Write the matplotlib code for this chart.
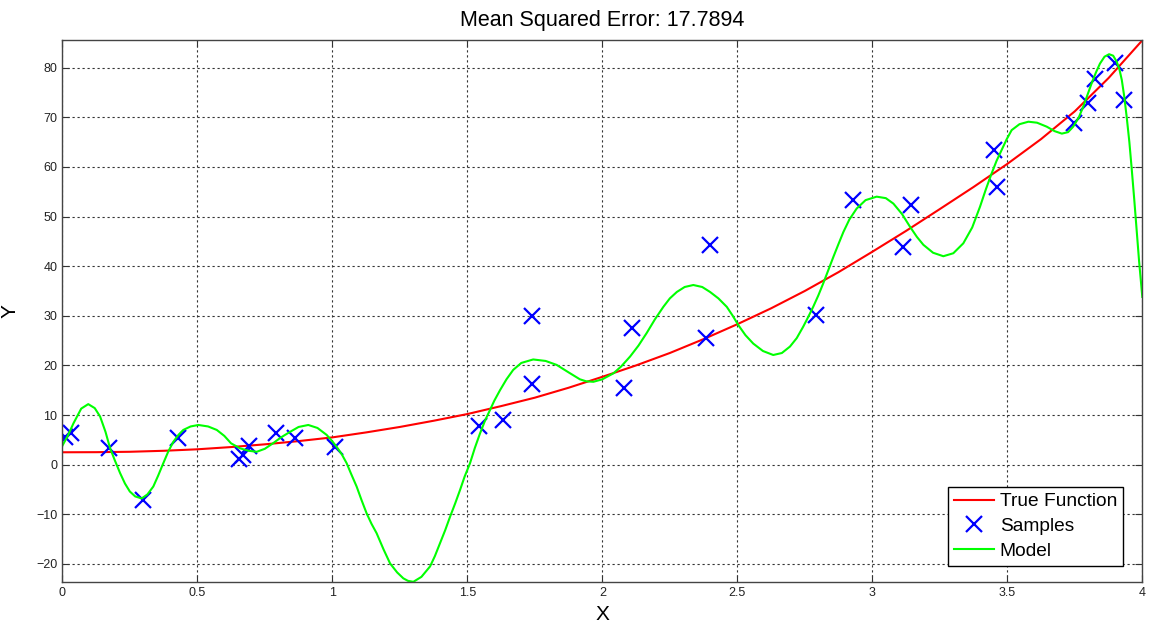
import matplotlib
matplotlib.use('Agg')
import matplotlib.pyplot as plt

plt.rcParams['font.family'] = ['Liberation Sans', 'DejaVu Sans']

# samples (blue crosses)
sample_x = [0.010, 0.033, 0.174, 0.300, 0.430, 0.654, 0.670, 0.693, 0.790, 0.862,
            1.010, 1.543, 1.633, 1.741, 1.741, 2.081, 2.111, 2.384, 2.399, 2.790,
            2.930, 3.115, 3.142, 3.451, 3.463, 3.747, 3.800, 3.825, 3.899, 3.932]
sample_y = [5.6, 6.4, 3.4, -7.1, 5.4, 1.1, 1.9, 3.8, 6.3, 5.3,
            3.6, 7.8, 9.1, 16.3, 29.9, 15.5, 27.6, 25.5, 44.3, 30.1,
            53.3, 43.8, 52.4, 63.4, 56.0, 68.9, 72.8, 77.8, 80.9, 73.5]

# true function (red)
true_x = [0.0, 0.125, 0.25, 0.375, 0.5, 0.625, 0.75, 0.875, 1.0, 1.125, 1.25,
          1.375, 1.5, 1.625, 1.75, 1.875, 2.0, 2.125, 2.25, 2.375, 2.5, 2.625,
          2.75, 2.875, 3.0, 3.125, 3.25, 3.375, 3.5, 3.625, 3.75, 3.875, 4.0]
true_y = [2.5, 2.52, 2.6, 2.8, 3.1, 3.55, 4.1, 4.75, 5.5, 6.5, 7.6,
          8.85, 10.2, 11.8, 13.5, 15.5, 17.7, 20.0, 22.5, 25.3, 28.3, 31.5,
          35.0, 38.8, 42.9, 47.1, 51.5, 55.95, 60.6, 65.6, 71.2, 77.9, 85.5]

# fitted model (green)
model_x = [0.0, 0.02, 0.041, 0.07, 0.096, 0.12, 0.14, 0.16, 0.177, 0.195,
           0.214, 0.232, 0.25, 0.27, 0.294, 0.315, 0.337, 0.355, 0.374, 0.392,
           0.411, 0.43, 0.448, 0.475, 0.504, 0.54, 0.572, 0.60, 0.625, 0.658,
           0.69, 0.72, 0.75, 0.78, 0.81, 0.843, 0.875, 0.911, 0.945, 0.979,
           1.0, 1.016, 1.035, 1.053, 1.07, 1.09, 1.108, 1.127, 1.145, 1.164,
           1.19, 1.214, 1.24, 1.263, 1.28, 1.30, 1.33, 1.362, 1.38, 1.399,
           1.418, 1.436, 1.455, 1.473, 1.49, 1.51, 1.528, 1.547, 1.565, 1.584,
           1.60, 1.621, 1.645, 1.67, 1.70, 1.744, 1.79, 1.831, 1.875, 1.917,
           1.94, 1.967, 2.0, 2.041, 2.07, 2.103, 2.134, 2.164, 2.195, 2.226,
           2.25, 2.276, 2.305, 2.337, 2.37, 2.399, 2.43, 2.461, 2.483, 2.504,
           2.53, 2.559, 2.595, 2.633, 2.665, 2.695, 2.72, 2.744, 2.762, 2.781,
           2.80, 2.818, 2.837, 2.856, 2.875, 2.893, 2.915, 2.942, 2.975, 3.016,
           3.05, 3.078, 3.11, 3.14, 3.165, 3.189, 3.225, 3.263, 3.30, 3.337,
           3.37, 3.399, 3.42, 3.442, 3.46, 3.479, 3.497, 3.516, 3.545, 3.578,
           3.61, 3.646, 3.675, 3.702, 3.725, 3.744, 3.765, 3.781, 3.797, 3.812,
           3.828, 3.843, 3.86, 3.877, 3.892, 3.905, 3.915, 3.924, 3.933, 3.942,
           3.952, 3.961, 3.97, 3.979, 3.988, 4.0]
model_y = [3.8, 5.8, 8.3, 11.3, 12.2, 11.4, 9.7, 6.6, 3.3, 0.8,
           -1.7, -3.8, -5.4, -6.4, -6.8, -6.0, -4.4, -2.2, 0.3, 2.6,
           4.6, 6.0, 7.0, 7.7, 8.0, 7.7, 7.0, 5.8, 4.3, 3.3,
           2.8, 2.6, 3.2, 4.3, 5.5, 6.6, 7.6, 8.0, 7.4, 6.0,
           4.7, 3.6, 2.1, 0.3, -1.9, -4.4, -7.1, -9.8, -11.9, -13.8,
           -17.1, -19.9, -21.7, -22.9, -23.4, -23.6, -22.6, -20.5, -18.4, -15.8,
           -13.2, -10.5, -7.8, -5.1, -2.4, 0.3, 3.4, 6.3, 8.8, 11.0,
           12.9, 15.0, 17.2, 19.1, 20.5, 21.2, 20.9, 20.1, 18.6, 17.2,
           16.8, 16.7, 17.2, 18.4, 19.8, 21.8, 24.0, 26.5, 29.3, 31.8,
           33.5, 34.8, 35.8, 36.2, 35.8, 34.8, 33.5, 31.8, 30.0, 28.1,
           26.1, 24.4, 22.9, 22.1, 22.5, 23.8, 25.5, 27.8, 29.7, 31.8,
           34.1, 36.5, 39.2, 41.9, 44.5, 46.9, 49.4, 51.6, 53.3, 54.0,
           53.7, 52.6, 50.5, 47.9, 45.9, 44.3, 42.7, 42.0, 42.6, 44.6,
           47.8, 52.0, 55.4, 58.7, 61.2, 63.4, 65.5, 67.4, 68.6, 69.1,
           68.9, 68.1, 67.2, 66.7, 67.0, 68.1, 70.0, 72.1, 74.5, 76.8,
           79.0, 80.8, 82.2, 82.7, 82.4, 81.2, 79.7, 77.5, 74.2, 70.1,
           65.0, 59.4, 53.5, 47.3, 41.0, 33.8]

x_ticks = [0, 0.5, 1, 1.5, 2, 2.5, 3, 3.5, 4]
x_tick_labels = ['0', '0.5', '1', '1.5', '2', '2.5', '3', '3.5', '4']
y_ticks = [-20, -10, 0, 10, 20, 30, 40, 50, 60, 70, 80]

fig = plt.figure(figsize=(11.52, 6.23), dpi=100)
ax = fig.add_axes([0.0541, 0.0653, 0.9375, 0.870])

ax.plot(true_x, true_y, color='#ff0000', linewidth=1.5, label='True Function')
ax.plot(sample_x, sample_y, linestyle='none', marker='x', color='#0000ff',
        markersize=11, markeredgewidth=1.6, label='Samples')
ax.plot(model_x, model_y, color='#00ff00', linewidth=1.5, label='Model')

ax.set_xlim(0, 4)
ax.set_ylim(-23.7, 85.5)
ax.set_xticks(x_ticks)
ax.set_xticklabels(x_tick_labels)
ax.set_yticks(y_ticks)
ax.tick_params(direction='in', top=True, right=True, labelsize=9, length=5,
               colors='#333333', labelcolor='#222222')
for s in ax.spines.values():
    s.set_color('#444444')
    s.set_linewidth(1.0)
ax.grid(True, color='#333333', linestyle=(0, (2, 2.5)), linewidth=0.8)
ax.set_axisbelow(True)

ax.set_title('Mean Squared Error: 17.7894', fontsize=15.5, pad=10)
ax.set_xlabel('X', fontsize=15, labelpad=4)
ax.set_ylabel('Y', fontsize=15, rotation=90)
ax.yaxis.set_label_coords(-0.040, 0.5)

leg = ax.legend(loc='lower right', bbox_to_anchor=(0.982, 0.031), borderaxespad=0,
                fontsize=13.8, fancybox=False, framealpha=1, edgecolor='black',
                handlelength=2.1, borderpad=0.3, labelspacing=0.38, handletextpad=0.3)
leg.get_frame().set_linewidth(1.0)

fig.savefig('out.png', dpi=100)
